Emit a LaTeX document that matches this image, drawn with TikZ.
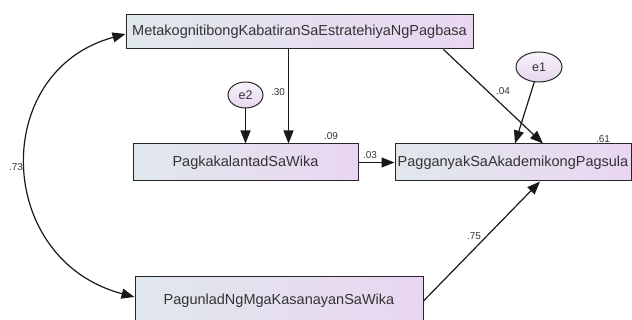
\documentclass[tikz,border=0pt]{standalone}
\usepackage{fontspec}
\setmainfont{Liberation Sans}
\usetikzlibrary{arrows.meta,positioning,shapes.geometric}
\definecolor{boxleft}{HTML}{E0E8EC}
\definecolor{boxright}{HTML}{EAD6F2}
\definecolor{errfill}{HTML}{E6D6EE}
\definecolor{ink}{HTML}{333333}
\tikzset{
  varbox/.style={rectangle, draw=black!85, line width=1pt, left color=boxleft, right color=boxright,
                 text=ink, font=\fontsize{14.5}{16}\selectfont, inner sep=0pt},
  errnode/.style={ellipse, draw=black!85, line width=1pt, top color=errfill!30!white, bottom color=errfill,
                  text=ink, font=\fontsize{12.5}{14}\selectfont, inner sep=0pt},
  reg/.style={-{Triangle[length=13pt,width=10pt]}, line width=1.2pt, draw=black!90},
  cov/.style={{Triangle[length=13pt,width=10pt]}-{Triangle[length=13pt,width=10pt]}, line width=1.2pt, draw=black!90},
  est/.style={font=\fontsize{10}{11}\selectfont, text=ink, inner sep=0pt}
}

\begin{document}
\begin{tikzpicture}[x=1pt, y=-1pt]
  \useasboundingbox (0,0) rectangle (632,320);
  \clip (0,0) rectangle (632,320);
  % observed variables
  \node[varbox, minimum width=347pt, minimum height=34pt] (meta) at (299.5,32) {MetakognitibongKabatiranSaEstratehiyaNgPagbasa};
  \node[varbox, minimum width=225pt, minimum height=37pt] (kalantad) at (245.5,162.5) {PagkakalantadSaWika};
  \node[varbox, minimum width=236pt, minimum height=37pt] (ganyak) at (513,162.5) {PagganyakSaAkademikongPagsula};
  \node[varbox, minimum width=288pt, minimum height=48pt] (unlad) at (279,301) {PagunladNgMgaKasanayanSaWika};
  % error terms
  \node[errnode, minimum width=35pt, minimum height=26pt] (e2) at (245.5,95) {e2};
  \node[errnode, minimum width=46pt, minimum height=30pt] (e1) at (539,67) {e1};
  % paths
  \draw[reg] (e2) -- (e2 |- kalantad.north);
  \draw[reg] ([xshift=-11pt]meta.south) -- ([xshift=-11pt]meta.south |- kalantad.north);
  \draw[reg] ([xshift=-30pt]meta.south east) -- ([xshift=30pt]ganyak.north);
  \draw[reg] (e1) -- ([xshift=2pt]ganyak.north);
  \draw[reg] (kalantad) -- (ganyak);
  \draw[reg] (unlad.east) -- ([xshift=27pt]ganyak.south);
  \draw[cov] ([yshift=-2pt]meta.west) .. controls +(-136,37) and +(-140,-37) .. ([yshift=4pt]unlad.west);
  % estimates
  \node[est] (b30) at (278,92) {.30};
  \node[est] (r09) at (331,136) {.09};
  \node[est] (b03) at (370,155) {.03};
  \node[est] (r61) at (603,139) {.61};
  \node[est] (b04) at (503,91) {.04};
  \node[est] (b75) at (474,236) {.75};
  \node[est] (c73) at (16,167) {.73};
\end{tikzpicture}
\end{document}
